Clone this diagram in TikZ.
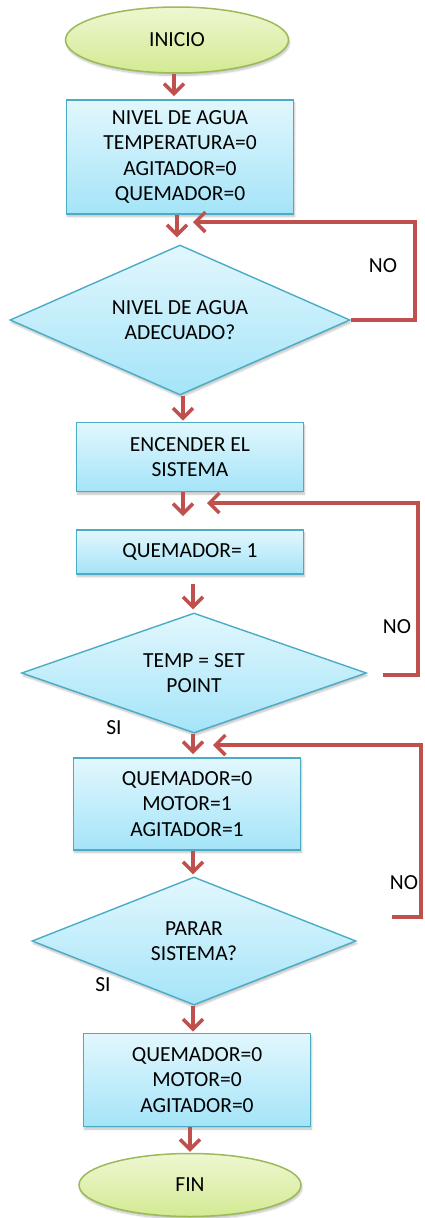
\documentclass[tikz,border=0pt]{standalone}
\usepackage{fontspec}
\setmainfont{Carlito}
\usetikzlibrary{shapes.geometric,arrows.meta,shadows.blur}
\definecolor{arrowred}{HTML}{C0504D}
\definecolor{boxline}{HTML}{4BACC6}
\definecolor{boxtop}{HTML}{E2F7FD}
\definecolor{boxbot}{HTML}{A4E4F8}
\definecolor{ovline}{HTML}{9BBB59}
\definecolor{ovtop}{HTML}{EEF7D2}
\definecolor{ovbot}{HTML}{D3EA92}
\tikzset{
  every node/.style={font=\fontsize{21.5}{25.5}\selectfont, text=black},
  shadowed/.style={blur shadow={shadow blur steps=6, shadow xshift=1pt, shadow yshift=-2.5pt, shadow opacity=25}},
  procbox/.style={rectangle, draw=boxline, line width=1.8pt, top color=boxtop, bottom color=boxbot, align=center, inner sep=0pt, minimum width=227pt, shadowed},
  decbox/.style={diamond, draw=boxline, line width=1.4pt, top color=boxtop, bottom color=boxbot, align=center, inner sep=0pt, shape aspect=2.6, shadowed},
  termbox/.style={ellipse, draw=ovline, line width=1.5pt, top color=ovtop, bottom color=ovbot, align=center, inner sep=0pt, shadowed},
  arr/.style={draw=arrowred, line width=3.5pt, -{Straight Barb[length=10pt,width=20pt]}},
  lbl/.style={inner sep=0pt}
}
\begin{document}
\begin{tikzpicture}[x=1pt,y=-1pt]
\useasboundingbox (0,0) rectangle (424,1218);

\node[termbox, minimum width=223pt, minimum height=66pt] (ini) at (177,40) {INICIO};
\node[procbox, minimum height=114pt] (b1) at (180,157) {NIVEL DE AGUA\\TEMPERATURA=0\\AGITADOR=0\\QUEMADOR=0};
\node[decbox, minimum width=340pt, minimum height=150pt] (d1) at (180,320) {NIVEL DE AGUA\\ADECUADO?};
\node[procbox, minimum height=69pt] (b2) at (190,457) {ENCENDER EL\\SISTEMA};
\node[procbox, minimum height=44pt] (b3) at (190,552) {QUEMADOR= 1};
\node[decbox, minimum width=345pt, minimum height=120pt] (d2) at (194,673) {TEMP = SET\\POINT};
\node[procbox, minimum height=92pt] (b4) at (187,804) {QUEMADOR=0\\MOTOR=1\\AGITADOR=1};
\node[decbox, minimum width=324pt, minimum height=128pt] (d3) at (194,941) {PARAR\\SISTEMA?};
\node[procbox, minimum height=93pt] (b5) at (197,1080) {QUEMADOR=0\\MOTOR=0\\AGITADOR=0};
\node[termbox, minimum width=222pt, minimum height=63pt] (fin) at (190,1185) {FIN};

% main flow
\draw[arr] (ini.south -| 174,0) -- ([yshift=3pt]b1.north -| 174,0);
\draw[arr] (b1.south -| 177,0) -- ([yshift=7pt]d1.north -| 177,0);
\draw[arr] (d1.south -| 183,0) -- ([yshift=1pt]b2.north -| 183,0);
\draw[arr] (b2.south -| 183,0) -- ([yshift=13pt]b3.north -| 183,0);
\draw[arr] ([yshift=-9pt]b3.south -| 193,0) -- ([yshift=3pt]d2.north -| 193,0);
\draw[arr] (d2.south -| 193,0) -- ([yshift=3pt]b4.north -| 193,0);
\draw[arr] (b4.south -| 193,0) -- ([yshift=2pt]d3.north -| 193,0);
\draw[arr] (d3.south -| 193,0) -- ([yshift=1pt]b5.north -| 193,0);
\draw[arr] (b5.south -| 190,0) -- ([yshift=1pt]fin.north -| 190,0);

% loops
\coordinate (j1) at (193,222);
\coordinate (j2) at (207,503);
\coordinate (j3) at (213,745);
\draw[arr] (d1.east) -- (415,320) -- (415,222) -- (j1);
\draw[arr] (383,675) -- (418,675) -- (418,503) -- (j2);
\draw[arr] (392,917) -- (421,917) -- (421,745) -- (j3);

% labels
\node[lbl] (no1) at (383,266) {NO};
\node[lbl] (no2) at (397,627) {NO};
\node[lbl] (si1) at (114,728) {SI};
\node[lbl] (no3) at (404,883) {NO};
\node[lbl] (si2) at (103,985) {SI};
\end{tikzpicture}
\end{document}
